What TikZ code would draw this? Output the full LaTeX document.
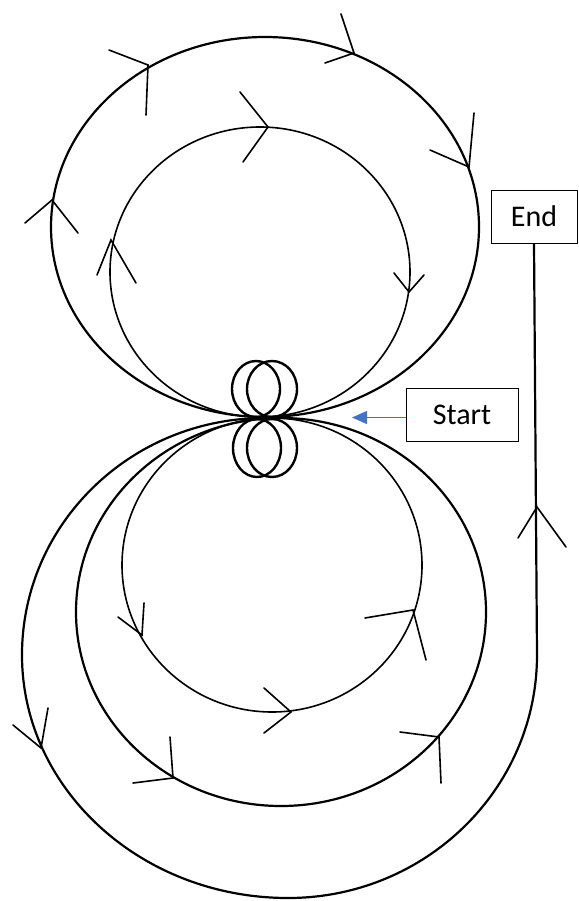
\documentclass[tikz,border=0pt]{standalone}
\usepackage{fontspec}
\setmainfont{Carlito}
\usetikzlibrary{arrows.meta}
\definecolor{ptrblue}{RGB}{68,114,196}
\begin{document}
\begin{tikzpicture}[x=1pt,y=-1pt,
  thickcurve/.style={line width=2.2pt},
  thincurve/.style={line width=1.6pt},
  loopcurve/.style={line width=2.4pt},
  chev/.style={line width=1.6pt, line cap=round},
  box/.style={draw, line width=0.9pt, fill=white, inner sep=0pt, font=\fontsize{30}{36}\selectfont},
  pointer/.style={draw=ptrblue, line width=1.3pt, -{Triangle[length=15pt,width=13pt]}}]
\useasboundingbox (0,0) rectangle (578,901);

% upper loops
\draw[thickcurve] (265,227) ellipse [x radius=214pt, y radius=190pt];
\draw[thincurve] (260,272) ellipse [x radius=150pt, y radius=145pt];
% lower loops
\draw[thincurve] (272,565) ellipse [x radius=150pt, y radius=147pt];
\draw[thickcurve] (281,612) ellipse [x radius=205pt, y radius=194pt];

% small loops
\draw[loopcurve] (256,389) ellipse [x radius=24pt, y radius=28pt];
\draw[loopcurve] (272,389) ellipse [x radius=25pt, y radius=28pt];
\draw[loopcurve] (257,448) ellipse [x radius=24pt, y radius=29pt];
\draw[loopcurve] (272,448) ellipse [x radius=25pt, y radius=29pt];

% boxes
\node[box, minimum width=86pt, minimum height=53pt] (end) at (534,216.5) {End};
\node[box, minimum width=112pt, minimum height=53pt] (start) at (462,414.5) {Start};

% outer lower spiral to End
\draw[thickcurve] (265,418)
  arc[start angle=90,end angle=180,x radius=243pt,y radius=237pt]
  arc[start angle=180,end angle=270,x radius=266pt,y radius=243pt]
  arc[start angle=270,end angle=360,x radius=249pt,y radius=243pt]
  -- (end.south);

% start pointer
\coordinate (tip) at (352,417.5);
\draw[pointer] ([yshift=-3pt]start.west) -- (tip);

% chevrons
\draw[chev] (109,50) -- (148,65) -- (146,115);
\draw[chev] (341,14) -- (354,53) -- (325,63);
\draw[chev] (474,113) -- (469,167) -- (430,150);
\draw[chev] (25,223) -- (52,200) -- (78,233);
\draw[chev] (240,92) -- (268,127) -- (243,162);
\draw[chev] (394,273) -- (409,292) -- (424,275);
\draw[chev] (97,275) -- (111,240) -- (136,283);
\draw[chev] (118,617) -- (142,635) -- (144,603);
\draw[chev] (264,688) -- (291,712) -- (264,733);
\draw[chev] (365,618) -- (413,610) -- (426,660);
\draw[chev] (133,783) -- (173,778) -- (170,737);
\draw[chev] (400,732) -- (439,737) -- (441,783);
\draw[chev] (13,725) -- (41,748) -- (48,708);
\draw[chev] (518,538) -- (537,507) -- (566,547);
\end{tikzpicture}
\end{document}
